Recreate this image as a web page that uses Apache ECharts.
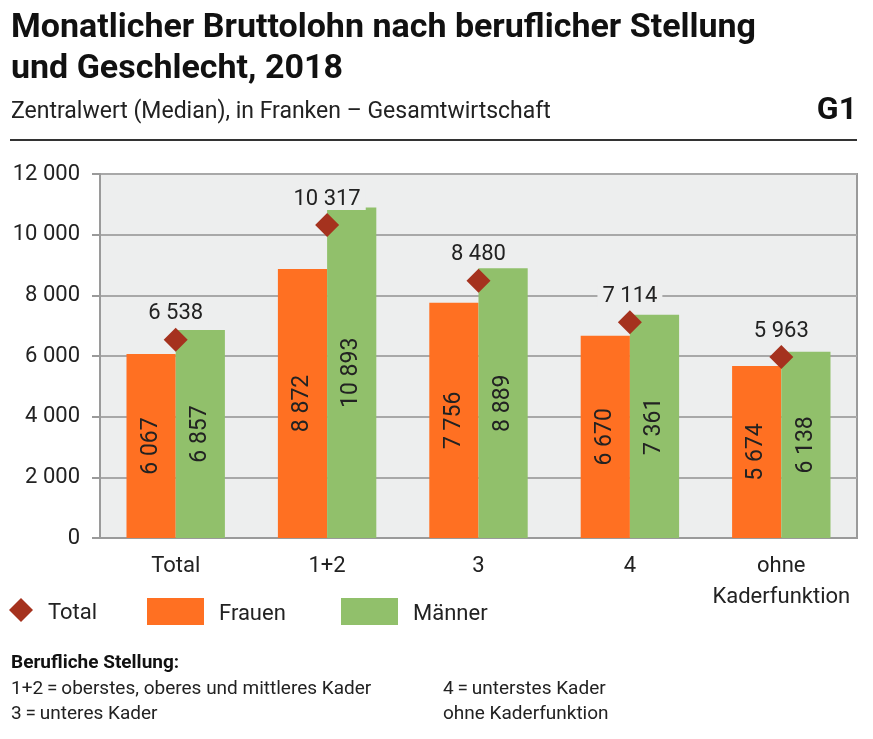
<!DOCTYPE html>
<html><head><meta charset="utf-8">
<script src="https://cdn.jsdelivr.net/npm/echarts@6/dist/echarts.min.js"></script>
<style>html,body{margin:0;padding:0;background:#fff}#c{width:873px;height:739px}</style>
</head><body><div id="c"></div>
<script>
const categories = ['Total', '1+2', '3', '4', 'ohne\nKaderfunktion'];
const frauen = [6067, 8872, 7756, 6670, 5674];
const maenner = [6857, 10893, 8889, 7361, 6138];
const total = [6538, 10317, 8480, 7114, 5963];
const yTicks = {min: 0, max: 12000, interval: 2000};

const FONT = 'Roboto';
const fmt = v => String(v).replace(/\B(?=(\d{3})+(?!\d))/g, ' ');
const PLOTBG = '#EDEEEE';

const chart = echarts.init(document.getElementById('c'));
const legText = (pad) => ({fontFamily: FONT, fontSize: 22, color: '#222', padding: [0, 0, 0, pad],
  rich: {a: {fontFamily: FONT, fontSize: 22, color: '#222', padding: [6, 0, 0, 0]}}});
chart.setOption({
  animation: false,
  textStyle: {fontFamily: FONT},
  title: [
    {text: 'Monatlicher Bruttolohn nach beruflicher Stellung\nund Geschlecht, 2018', left: 11, top: 8, padding: 0,
     textStyle: {fontFamily: FONT, fontWeight: 'bold', fontSize: 34, lineHeight: 41, color: '#111'}},
    {text: 'Zentralwert (Median), in Franken – Gesamtwirtschaft', left: 11, top: 101, padding: 0,
     textStyle: {fontFamily: FONT, fontWeight: 'normal', fontSize: 23, color: '#222'}},
    {text: 'G1', right: 16, top: 95, padding: 0, textStyle: {fontFamily: FONT, fontWeight: 'bold', fontSize: 32, color: '#111'}}
  ],
  graphic: [
    {type: 'rect', shape: {x: 10, y: 139, width: 847, height: 2}, style: {fill: '#333'}},
    {type: 'text', left: 11, top: 654, style: {text: 'Berufliche Stellung:', fontFamily: FONT, fontWeight: 'bold', fontSize: 19, fill: '#111'}},
    {type: 'text', left: 11, top: 680, style: {text: '1+2\u2009=\u2009oberstes, oberes und mittleres Kader', fontFamily: FONT, fontSize: 19, fill: '#222'}},
    {type: 'text', left: 11, top: 705, style: {text: '3\u2009=\u2009unteres Kader', fontFamily: FONT, fontSize: 19, fill: '#222'}},
    {type: 'text', left: 443, top: 680, style: {text: '4\u2009=\u2009unterstes Kader', fontFamily: FONT, fontSize: 19, fill: '#222'}},
    {type: 'text', left: 443, top: 705, style: {text: 'ohne Kaderfunktion', fontFamily: FONT, fontSize: 19, fill: '#222'}}
  ],
  legend: [
    {data: ['Total'], left: 9, top: 598, padding: 0, itemGap: 0, itemWidth: 24, itemHeight: 24, selectedMode: false, formatter: '{a|{name}}', textStyle: legText(10)},
    {data: ['Frauen'], left: 147, top: 598, padding: 0, itemGap: 0, itemWidth: 57, itemHeight: 27, icon: 'rect', selectedMode: false, formatter: '{a|{name}}', textStyle: legText(10)},
    {data: ['Männer'], left: 341, top: 598, padding: 0, itemGap: 0, itemWidth: 57, itemHeight: 27, icon: 'rect', selectedMode: false, formatter: '{a|{name}}', textStyle: legText(10)}
  ],
  grid: {left: 100, right: 16, top: 174, bottom: 201, show: true, backgroundColor: PLOTBG, borderColor: '#9a9a9a', borderWidth: 2, containLabel: false},
  xAxis: {
    type: 'category', data: categories,
    axisLine: {lineStyle: {color: '#9a9a9a', width: 2}},
    axisTick: {show: false},
    axisLabel: {interval: 0, fontFamily: FONT, fontSize: 22, color: '#222', margin: 13, lineHeight: 31}
  },
  yAxis: {
    type: 'value', min: yTicks.min, max: yTicks.max, interval: yTicks.interval,
    axisLine: {show: true, lineStyle: {color: '#9a9a9a', width: 2}},
    axisTick: {show: true, length: 8, lineStyle: {color: '#9a9a9a', width: 2}},
    splitLine: {lineStyle: {color: '#a8a8a8', width: 2}},
    axisLabel: {fontFamily: FONT, fontSize: 22, color: '#222', margin: 20, formatter: v => fmt(v)}
  },
  series: [
    {name: 'Frauen', type: 'bar', data: frauen, barGap: '0%', barCategoryGap: '35%',
     itemStyle: {color: '#FF7022'},
     label: {show: true, position: 'inside', rotate: 90, fontFamily: FONT, fontSize: 23, color: '#222', formatter: p => fmt(p.value)}},
    {name: 'Männer', type: 'bar', data: maenner,
     itemStyle: {color: '#91C06B'},
     label: {show: true, position: 'inside', rotate: 90, fontFamily: FONT, fontSize: 23, color: '#222', formatter: p => fmt(p.value)}},
    {name: 'Total', type: 'scatter', data: total, symbol: 'diamond', symbolSize: 24, z: 5,
     itemStyle: {color: '#A5321E', opacity: 1},
     label: {show: true, position: 'top', distance: 3, fontFamily: FONT, fontSize: 22, color: '#222',
       backgroundColor: PLOTBG, padding: [0, 5], formatter: p => fmt(p.value)}}
  ]
});
</script></body></html>
